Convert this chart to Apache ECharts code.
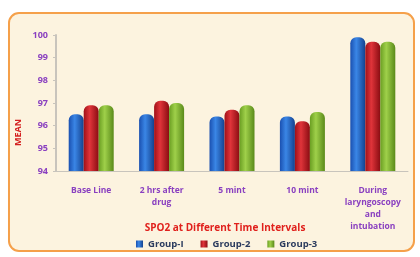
<!DOCTYPE html>
<html>
<head>
<meta charset="utf-8">
<title>SPO2 chart</title>
<script src="https://cdn.jsdelivr.net/npm/echarts@6/dist/echarts.min.js"></script>
<style>
  html, body { margin: 0; padding: 0; background: #fff; }
  #main { width: 420px; height: 257px; }
</style>
</head>
<body>
<div id="main"></div>
<script type="text/javascript">
var categories = ['Base Line', '2 hrs after\ndrug', '5 mint', '10 mint', 'During\nlaryngoscopy\nand\nintubation'];
var group1 = [96.5, 96.5, 96.4, 96.4, 99.9];
var group2 = [96.9, 97.1, 96.7, 96.2, 99.7];
var group3 = [96.9, 97.0, 96.9, 96.6, 99.7];
var yTicks = [94, 95, 96, 97, 98, 99, 100];

function cyl(c1, c2, c3) {
    return new echarts.graphic.LinearGradient(0, 0, 1, 0, [
        { offset: 0, color: c1 },
        { offset: 0.4, color: c2 },
        { offset: 1, color: c3 }
    ]);
}

var myChart = echarts.init(document.getElementById('main'));

var option = {
    animation: false,
    backgroundColor: '#ffffff',
    graphic: [{
        type: 'rect',
        shape: { x: 9, y: 13, width: 405, height: 238, r: 10 },
        style: { fill: '#fcf3df', stroke: '#f5a04a', lineWidth: 2 },
        z: -10
    }, {
        type: 'text',
        left: 14,
        top: 119,
        rotation: Math.PI / 2,
        style: { text: 'MEAN', fill: '#d42020', font: 'bold 9px "Open Sans", sans-serif' }
    }, {
        // x axis title
        type: 'text',
        x: 225,
        y: 228,
        style: {
            text: 'SPO2 at Different Time Intervals',
            fill: '#e0201c',
            font: 'bold 10px "Open Sans", sans-serif',
            textAlign: 'center',
            textVerticalAlign: 'middle'
        }
    }],
    legend: {
        bottom: 3,
        left: 131,
        itemWidth: 7,
        itemHeight: 7,
        itemGap: 17,
        icon: 'rect',
        textStyle: { color: '#2b3b5e', fontSize: 9.5, fontWeight: 'bold', fontFamily: 'Open Sans' },
        data: ['Group-I', 'Group-2', 'Group-3']
    },
    grid: { left: 56, right: 12, top: 35, height: 136 },
    xAxis: {
        type: 'category',
        data: categories,
        axisLine: { lineStyle: { color: '#c8c4bc' } },
        axisTick: { show: false },
        axisLabel: { color: '#8a40c0', fontSize: 8.5, fontWeight: 'bold', fontFamily: 'Open Sans', lineHeight: 12, margin: 14, interval: 0 }
    },
    yAxis: {
        type: 'value',
        min: yTicks[0],
        max: yTicks[yTicks.length - 1],
        interval: 1,
        axisLine: { show: true, lineStyle: { color: '#c8c4bc', width: 2 } },
        axisTick: { show: true, length: 3, lineStyle: { color: '#c8c4bc' } },
        splitLine: { show: false },
        axisLabel: { color: '#8a40c0', fontSize: 9, fontWeight: 'bold', fontFamily: 'Open Sans', margin: 8 }
    },
    series: [{
        name: 'Group-I',
        type: 'bar',
        data: group1,
        barWidth: 15,
        barGap: '0%',
        itemStyle: { color: cyl('#1a50b0', '#3a86e6', '#14428f'), borderRadius: [6, 6, 0, 0] }
    }, {
        name: 'Group-2',
        type: 'bar',
        data: group2,
        barWidth: 15,
        itemStyle: { color: cyl('#a01018', '#e0343a', '#8a0c12'), borderRadius: [6, 6, 0, 0] }
    }, {
        name: 'Group-3',
        type: 'bar',
        data: group3,
        barWidth: 15,
        itemStyle: { color: cyl('#6a9e22', '#9fd04a', '#5a8a1a'), borderRadius: [6, 6, 0, 0] }
    }]
};

myChart.setOption(option);
</script>
</body>
</html>
